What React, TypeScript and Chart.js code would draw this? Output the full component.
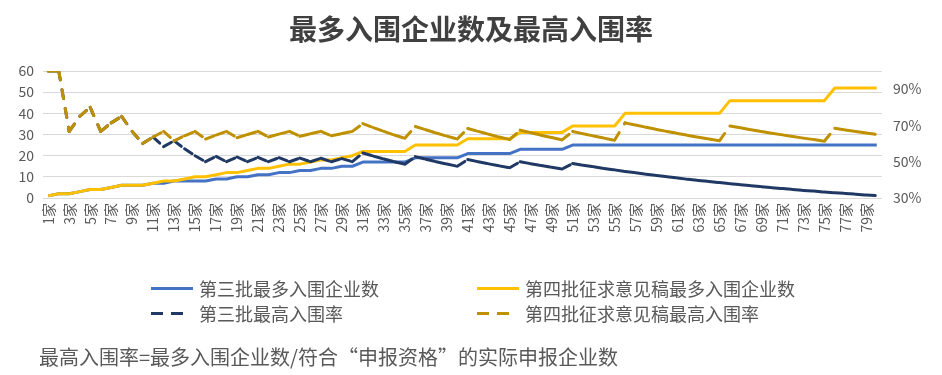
import React, { useEffect, useRef } from "react";
import { Chart, registerables } from "chart.js";

Chart.register(...registerables);

const categories = [
  "1家", "2家", "3家", "4家", "5家", "6家", "7家", "8家", "9家", "10家",
  "11家", "12家", "13家", "14家", "15家", "16家", "17家", "18家", "19家", "20家",
  "21家", "22家", "23家", "24家", "25家", "26家", "27家", "28家", "29家", "30家",
  "31家", "32家", "33家", "34家", "35家", "36家", "37家", "38家", "39家", "40家",
  "41家", "42家", "43家", "44家", "45家", "46家", "47家", "48家", "49家", "50家",
  "51家", "52家", "53家", "54家", "55家", "56家", "57家", "58家", "59家", "60家",
  "61家", "62家", "63家", "64家", "65家", "66家", "67家", "68家", "69家", "70家",
  "71家", "72家", "73家", "74家", "75家", "76家", "77家", "78家", "79家", "80家",
];

// 第三批最多入围企业数
const thirdCount = [
  1, 2, 2, 3, 4, 4, 5, 6, 6, 6,
  7, 7, 8, 8, 8, 8, 9, 9, 10, 10,
  11, 11, 12, 12, 13, 13, 14, 14, 15, 15,
  17, 17, 17, 17, 17, 19, 19, 19, 19, 19,
  21, 21, 21, 21, 21, 23, 23, 23, 23, 23,
  25, 25, 25, 25, 25, 25, 25, 25, 25, 25,
  25, 25, 25, 25, 25, 25, 25, 25, 25, 25,
  25, 25, 25, 25, 25, 25, 25, 25, 25, 25,
];

// 第四批征求意见稿最多入围企业数
const fourthCount = [
  1, 2, 2, 3, 4, 4, 5, 6, 6, 6,
  7, 8, 8, 9, 10, 10, 11, 12, 12, 13,
  14, 14, 15, 16, 16, 17, 18, 18, 19, 20,
  22, 22, 22, 22, 22, 25, 25, 25, 25, 25,
  28, 28, 28, 28, 28, 31, 31, 31, 31, 31,
  34, 34, 34, 34, 34, 40, 40, 40, 40, 40,
  40, 40, 40, 40, 40, 46, 46, 46, 46, 46,
  46, 46, 46, 46, 46, 52, 52, 52, 52, 52,
];

// 第三批最高入围率 (%)
const thirdRate = [
  100, 100, 66.7, 75, 80, 66.7, 71.4, 75, 66.7, 60,
  63.6, 58.3, 61.5, 57.1, 53.3, 50, 52.9, 50, 52.6, 50,
  52.4, 50, 52.2, 50, 52, 50, 51.9, 50, 51.7, 50,
  54.8, 53.1, 51.5, 50, 48.6, 52.8, 51.4, 50, 48.7, 47.5,
  51.2, 50, 48.8, 47.7, 46.7, 50, 48.9, 47.9, 46.9, 46,
  49, 48.1, 47.2, 46.3, 45.5, 44.6, 43.9, 43.1, 42.4, 41.7,
  41, 40.3, 39.7, 39.1, 38.5, 37.9, 37.3, 36.8, 36.2, 35.7,
  35.2, 34.7, 34.2, 33.8, 33.3, 32.9, 32.5, 32.1, 31.6, 31.3,
];

// 第四批征求意见稿最高入围率 (%)
const fourthRate = [
  100, 100, 66.7, 75, 80, 66.7, 71.4, 75, 66.7, 60,
  63.6, 66.7, 61.5, 64.3, 66.7, 62.5, 64.7, 66.7, 63.2, 65,
  66.7, 63.6, 65.2, 66.7, 64, 65.4, 66.7, 64.3, 65.5, 66.7,
  71, 68.8, 66.7, 64.7, 62.9, 69.4, 67.6, 65.8, 64.1, 62.5,
  68.3, 66.7, 65.1, 63.6, 62.2, 67.4, 66, 64.6, 63.3, 62,
  66.7, 65.4, 64.2, 63, 61.8, 71.4, 70.2, 69, 67.8, 66.7,
  65.6, 64.5, 63.5, 62.5, 61.5, 69.7, 68.7, 67.6, 66.7, 65.7,
  64.8, 63.9, 63, 62.2, 61.3, 68.4, 67.5, 66.7, 65.8, 65,
];

const countTicks = [0, 10, 20, 30, 40, 50, 60];
const rateTicks = [30, 50, 70, 90];
const rateRange = [30, 100];

const seriesNames = [
  "第三批最多入围企业数",
  "第四批征求意见稿最多入围企业数",
  "第三批最高入围率",
  "第四批征求意见稿最高入围率",
];
const titleText = "最多入围企业数及最高入围率";
const noteText = "最高入围率=最多入围企业数/符合“申报资格”的实际申报企业数";

const COLORS = ["#4472C4", "#FFC000", "#203864", "#BF9000"];
const FONT = '"Noto Sans CJK SC", "Noto Sans", sans-serif';
const TEXT = "#595959";

function LegendItem({ name, color, dashed, left, top }: any) {
  return (
    <div
      style={{
        position: "absolute",
        left,
        top,
        height: 24,
        display: "flex",
        alignItems: "center",
        fontFamily: FONT,
        fontSize: 18,
        color: TEXT,
        whiteSpace: "nowrap",
      }}
    >
      <div style={{ width: 42, height: 3, position: "relative", marginRight: 6 }}>
        {dashed ? (
          <>
            <div style={{ position: "absolute", left: 0, top: 0, width: 12, height: 3, background: color }} />
            <div style={{ position: "absolute", left: 20, top: 0, width: 12, height: 3, background: color }} />
          </>
        ) : (
          <div style={{ position: "absolute", left: 0, top: 0, width: 42, height: 3, background: color }} />
        )}
      </div>
      <span>{name}</span>
    </div>
  );
}

export default function App() {
  const ref = useRef<HTMLCanvasElement>(null);

  useEffect(() => {
    const alt = (ctx: any) => (ctx.p0DataIndex % 2 ? 0.001 : 0);
    const chart = new Chart(ref.current as HTMLCanvasElement, {
      type: "line",
      data: {
        labels: categories,
        datasets: [
          {
            label: seriesNames[0],
            data: thirdCount,
            borderColor: COLORS[0],
            backgroundColor: COLORS[0],
            borderWidth: 3,
            yAxisID: "y",
            order: 4,
          },
          {
            label: seriesNames[1],
            data: fourthCount,
            borderColor: COLORS[1],
            backgroundColor: COLORS[1],
            borderWidth: 3,
            yAxisID: "y",
            order: 3,
          },
          {
            label: seriesNames[2],
            data: thirdRate,
            borderColor: COLORS[2],
            backgroundColor: COLORS[2],
            borderWidth: 3,
            borderDash: [9, 10],
            borderCapStyle: "round",
            yAxisID: "y1",
            order: 2,
            segment: { borderDashOffset: alt },
          },
          {
            label: seriesNames[3],
            data: fourthRate,
            borderColor: COLORS[3],
            backgroundColor: COLORS[3],
            borderWidth: 3,
            borderDash: [9, 10],
            borderCapStyle: "round",
            yAxisID: "y1",
            order: 1,
            segment: { borderDashOffset: alt },
          },
        ],
      } as any,
      options: {
        animation: false,
        responsive: false,
        maintainAspectRatio: false,
        layout: { padding: { left: 0, right: 0, top: 71, bottom: 127 } },
        elements: {
          point: { radius: 0, hoverRadius: 0 },
          line: { tension: 0, borderJoinStyle: "round" },
        },
        plugins: {
          legend: { display: false },
          title: { display: false },
          tooltip: { enabled: false },
        },
        scales: {
          x: {
            type: "category",
            offset: true,
            grid: { display: false, drawTicks: false },
            border: { display: false },
            ticks: {
              autoSkip: false,
              maxRotation: 90,
              minRotation: 90,
              padding: 5,
              color: TEXT,
              font: { family: FONT, size: 14 },
              callback: (_v: any, i: number) => (i % 2 === 0 ? categories[i] : ""),
            },
            afterFit: (s: any) => {
              s.height = 50;
            },
          },
          y: {
            position: "left",
            min: countTicks[0],
            max: countTicks[countTicks.length - 1],
            grid: { color: "#D9D9D9", lineWidth: 1, drawTicks: false },
            border: { display: false },
            ticks: {
              stepSize: 10,
              padding: 9,
              color: TEXT,
              font: { family: FONT, size: 14 },
            },
            afterBuildTicks: (s: any) => {
              s.ticks = countTicks.map((v) => ({ value: v }));
            },
            afterFit: (s: any) => {
              s.width = 43;
            },
          },
          y1: {
            position: "right",
            min: rateRange[0],
            max: rateRange[1],
            grid: { display: false, drawTicks: false },
            border: { display: false },
            ticks: {
              padding: 11,
              color: TEXT,
              font: { family: FONT, size: 14 },
              callback: (v: any) => v + "%",
            },
            afterBuildTicks: (s: any) => {
              s.ticks = rateTicks.map((v) => ({ value: v }));
            },
            afterFit: (s: any) => {
              s.width = 60;
            },
          },
        },
      } as any,
    });
    return () => chart.destroy();
  }, []);

  return (
    <div
      style={{
        position: "fixed",
        left: 0,
        top: 0,
        width: 942,
        height: 375,
        background: "#ffffff",
        overflow: "hidden",
      }}
    >
      <canvas ref={ref} width={942} height={375} style={{ position: "absolute", left: 0, top: 0, width: 942, height: 375 }} />
      <div
        style={{
          position: "absolute",
          left: 0,
          top: 11,
          width: 942,
          textAlign: "center",
          fontFamily: FONT,
          fontWeight: 700,
          fontSize: 28,
          lineHeight: "34px",
          color: "#404040",
        }}
      >
        {titleText}
      </div>
      <LegendItem name={seriesNames[0]} color={COLORS[0]} dashed={false} left={151} top={276} />
      <LegendItem name={seriesNames[1]} color={COLORS[1]} dashed={false} left={477} top={276} />
      <LegendItem name={seriesNames[2]} color={COLORS[2]} dashed={true} left={151} top={301} />
      <LegendItem name={seriesNames[3]} color={COLORS[3]} dashed={true} left={477} top={301} />
      <div
        style={{
          position: "absolute",
          left: 39,
          top: 344,
          height: 26,
          lineHeight: "26px",
          fontFamily: FONT,
          fontSize: 20,
          color: TEXT,
          whiteSpace: "nowrap",
        }}
      >
        {noteText}
      </div>
    </div>
  );
}
